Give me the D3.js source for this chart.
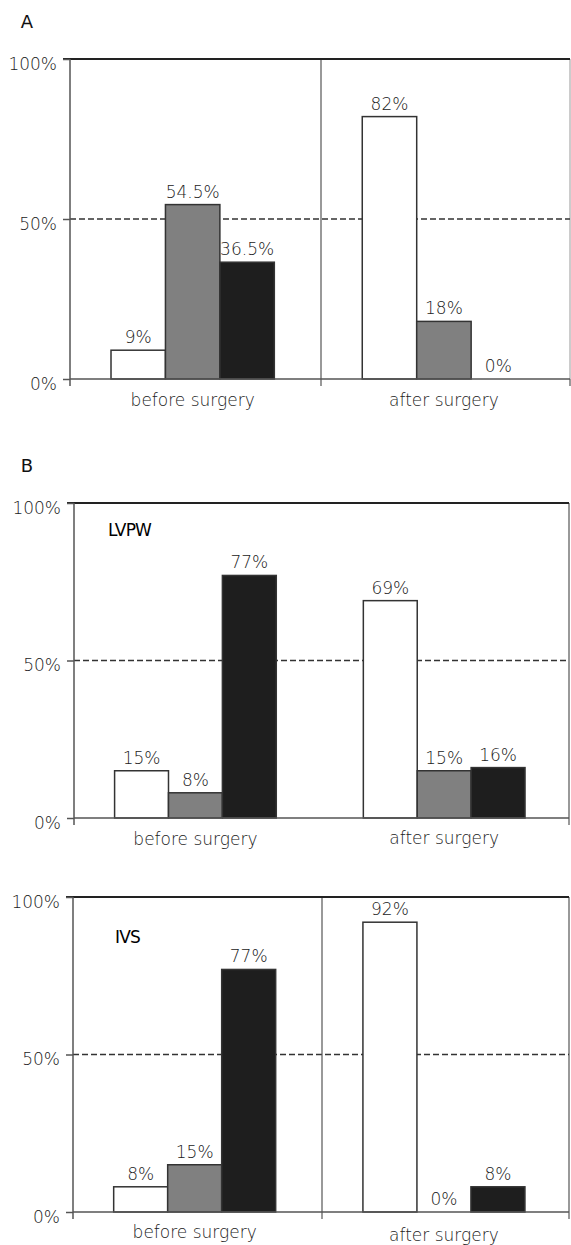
<!DOCTYPE html>
<html>
<head>
<meta charset="utf-8">
<script src="https://cdn.jsdelivr.net/npm/d3@7"></script>
<style>
  html, body { margin: 0; padding: 0; background: #fff; }
  svg { display: block; }
  text { font-family: "DejaVu Sans", "Noto Sans", sans-serif; }
</style>
</head>
<body>
<svg id="chart" width="571" height="1245"></svg>
<script>
// Category and series data
const categories = ["before surgery", "after surgery"];
const yTicks = [0, 50, 100];
const fills = ["#ffffff", "#808080", "#1e1e1e"];

// Panel A: overall distribution
const panelA_before = [9, 54.5, 36.5];
const panelA_after = [82, 18, 0];
// Panel B: LVPW
const lvpw_before = [15, 8, 77];
const lvpw_after = [69, 15, 16];
// Panel B: IVS
const ivs_before = [8, 15, 77];
const ivs_after = [92, 0, 8];

const FONT = "'DejaVu Sans', 'Noto Sans', sans-serif";
const TXT = "#222";

const panels = [
  { letter: "A", letterY: 22, tag: null, before: panelA_before, after: panelA_after,
    top: 59, bottom: 379, left: 70, right: 570, divider: true, rightColor: "#aaa",
    labelY: [400, 400] },
  { letter: "B", letterY: 466, tag: "LVPW", tagX: 108, tagY: 530, before: lvpw_before, after: lvpw_after,
    top: 503, bottom: 818, left: 74, right: 569, divider: false, rightColor: "#555",
    labelY: [839, 838] },
  { letter: null, tag: "IVS", tagX: 115, tagY: 937, before: ivs_before, after: ivs_after,
    top: 897, bottom: 1212, left: 73, right: 569, divider: true, rightColor: "#555",
    labelY: [1232, 1235] }
];

const svg = d3.select("#chart");
const fmt = v => v + "%";

panels.forEach(p => {
  const g = svg.append("g");
  const y = d3.scaleLinear().domain([0, 100]).range([p.bottom, p.top]);
  const x = d3.scaleBand().domain(categories).range([p.left, p.right])
    .paddingInner(0.35).paddingOuter(0.17).align(0.48);
  const xs = d3.scaleBand().domain([0, 1, 2]).range([0, x.bandwidth()]);

  if (p.letter) {
    g.append("text").attr("x", 27).attr("y", p.letterY).attr("dy", "0.36em")
      .attr("text-anchor", "middle").attr("font-size", 18).attr("fill", "#111")
      .text(p.letter);
  }

  // right border
  g.append("line").attr("x1", p.right).attr("x2", p.right)
    .attr("y1", p.top).attr("y2", p.bottom)
    .attr("stroke", p.rightColor).attr("stroke-width", 1.2);

  // 50% reference line
  g.append("line").attr("x1", p.left).attr("x2", p.right)
    .attr("y1", y(50)).attr("y2", y(50))
    .attr("stroke", "#333").attr("stroke-width", 1.3).attr("stroke-dasharray", "6,3");

  // divider between categories
  const divX = Math.round((p.left + p.right) / 2) + 1;
  if (p.divider) {
    g.append("line").attr("x1", divX).attr("x2", divX)
      .attr("y1", p.top).attr("y2", p.bottom + 7)
      .attr("stroke", "#555").attr("stroke-width", 1.2);
  }

  // top border
  g.append("line").attr("x1", p.left - 7).attr("x2", p.right)
    .attr("y1", p.top).attr("y2", p.top)
    .attr("stroke", "#222").attr("stroke-width", 2);

  // bars
  const rows = [];
  categories.forEach((c, ci) => {
    const vals = ci === 0 ? p.before : p.after;
    vals.forEach((v, si) => rows.push({ c, si, v }));
  });

  g.selectAll("rect.bar").data(rows.filter(d => d.v > 0)).join("rect")
    .attr("class", "bar")
    .attr("x", d => x(d.c) + xs(d.si))
    .attr("y", d => y(d.v))
    .attr("width", xs.bandwidth())
    .attr("height", d => y(0) - y(d.v))
    .attr("fill", d => fills[d.si])
    .attr("stroke", "#333").attr("stroke-width", 1.5);

  // value labels
  g.selectAll("text.val").data(rows).join("text")
    .attr("class", "val")
    .attr("x", d => x(d.c) + xs(d.si) + xs.bandwidth() / 2)
    .attr("y", d => y(d.v) - 7)
    .attr("text-anchor", "middle")
    .attr("font-size", 17).attr("font-weight", 200).attr("fill", TXT)
    .text(d => fmt(d.v));

  // y axis
  const yAxis = d3.axisLeft(y).tickValues(yTicks).tickSize(7).tickPadding(6).tickFormat(fmt);
  const ya = g.append("g").attr("transform", `translate(${p.left},0)`).call(yAxis);
  ya.select(".domain").remove();
  ya.selectAll(".tick line").attr("stroke", "#555").attr("stroke-width", 1.5);
  ya.selectAll(".tick text").attr("font-size", 17).attr("font-weight", 200)
    .attr("fill", TXT).attr("font-family", FONT).attr("dy", "0.6em");
  g.append("line").attr("x1", p.left).attr("x2", p.left)
    .attr("y1", p.top).attr("y2", p.bottom + 7)
    .attr("stroke", "#555").attr("stroke-width", 1.5);

  // baseline
  g.append("line").attr("x1", p.left).attr("x2", p.right)
    .attr("y1", p.bottom).attr("y2", p.bottom)
    .attr("stroke", "#555").attr("stroke-width", 1.5);
  g.append("line").attr("x1", p.right).attr("x2", p.right)
    .attr("y1", p.bottom).attr("y2", p.bottom + 7)
    .attr("stroke", "#555").attr("stroke-width", 1.2);

  // category labels
  const xAxis = d3.axisBottom(x).tickSize(0).tickPadding(0);
  const xa = g.append("g").call(xAxis);
  xa.select(".domain").remove();
  xa.selectAll(".tick text").attr("font-size", 17).attr("font-weight", 200)
    .attr("fill", TXT).attr("dy", "0.36em")
    .attr("y", (d, i) => p.labelY[i])
    .attr("font-family", FONT);

  if (p.tag) {
    g.append("text").attr("x", p.tagX).attr("y", p.tagY).attr("dy", "0.36em")
      .attr("font-size", 17).attr("fill", "#000")
      .attr("letter-spacing", "-0.8px")
      .text(p.tag);
  }
});
</script>
</body>
</html>
